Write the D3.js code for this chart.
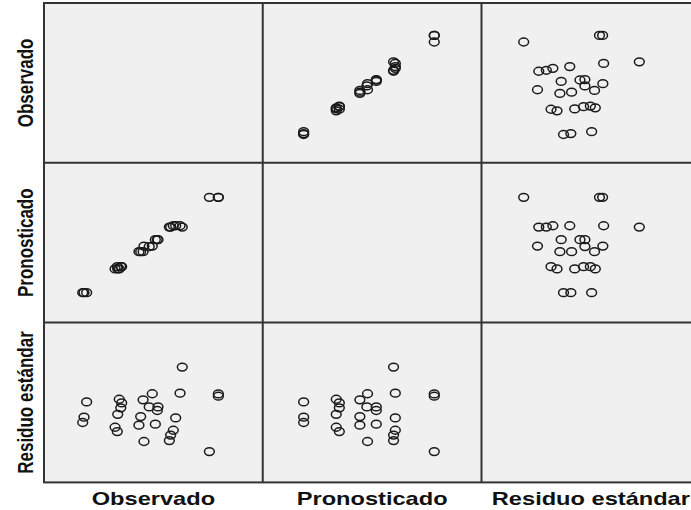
<!DOCTYPE html>
<html>
<head>
<meta charset="utf-8">
<script src="https://cdn.jsdelivr.net/npm/d3@7/dist/d3.min.js"></script>
<style>
  html, body { margin: 0; padding: 0; background: #ffffff; }
  svg { display: block; }
</style>
</head>
<body>
<svg id="chart" width="691" height="510"></svg>
<script>
// Variables of the scatterplot matrix (row/column order)
const variables = ["Observado", "Pronosticado", "Residuo estándar"];

// One entry per case
const observado = [63.2, 19.5, 34.4, 35.5, 35.1, 49.5, 45.3, 62.2, 79.7, 79.7, 48.1, 52.1, 51.8, 33.7,
  18.3, 17.7, 44.2, 43.4, 50.9, 60.2, 32.5, 33.5, 59.1, 57.9, 57.3, 45.7, 75.6];
const pronosticado = [59.8, 18.7, 33.6, 35.0, 35.0, 47.9, 44.4, 60.6, 78.4, 78.4, 47.6, 51.9, 51.9, 33.6,
  18.7, 18.7, 44.4, 44.4, 51.9, 60.6, 33.6, 35.0, 60.6, 59.8, 59.8, 47.9, 78.4];
const residuo = [2.46, 0.63, 0.77, 0.58, 0.32, 1.06, 0.74, 1.09, 1.05, 0.93, 0.37, 0.37, 0.18, -0.02,
  -0.17, -0.45, -0.14, -0.59, -0.54, -0.21, -0.70, -0.93, -0.86, -1.11, -1.40, -1.45, -1.98];

// Axis ranges of each variable
const obsDomain = [0, 100];
const predDomain = [0, 100];
const residDomain = [-3.6, 4.8];

const series = [observado, pronosticado, residuo];
const domains = [obsDomain, predDomain, residDomain];

// Layout
const marginLeft = 44, marginTop = 3, cellW = 218.75, cellH = 159.8;
const stretch = 1.27;            // horizontal stretch of glyphs and markers
const n = variables.length;

const svg = d3.select("#chart");

const xScales = domains.map((d, j) =>
  d3.scaleLinear().domain(d).range([marginLeft + j * cellW, marginLeft + (j + 1) * cellW]));
const yScales = domains.map((d, i) =>
  d3.scaleLinear().domain(d).range([marginTop + (i + 1) * cellH, marginTop + i * cellH]));

const cases = d3.range(observado.length);

// Cell backgrounds
const cells = [];
for (let i = 0; i < n; i++) for (let j = 0; j < n; j++) cells.push({ i, j });

svg.append("g").selectAll("rect").data(cells).join("rect")
  .attr("x", d => xScales[d.j].range()[0])
  .attr("y", d => yScales[d.i].range()[1])
  .attr("width", cellW)
  .attr("height", cellH)
  .attr("fill", "#f0f0f0");

// Markers (off-diagonal cells only)
const offDiag = cells.filter(c => c.i !== c.j);
const pts = svg.append("g");
offDiag.forEach(c => {
  pts.append("g").selectAll("ellipse").data(cases).join("ellipse")
    .attr("cx", k => xScales[c.j](series[c.j][k]))
    .attr("cy", k => yScales[c.i](series[c.i][k]))
    .attr("rx", 4.9)
    .attr("ry", 3.9)
    .attr("fill", "none")
    .attr("stroke", "#1a1a1a")
    .attr("stroke-width", 1.5);
});

// Grid lines and frame
const grid = svg.append("g").attr("stroke", "#333").attr("stroke-width", 2).attr("fill", "none");
grid.append("rect")
  .attr("x", marginLeft).attr("y", marginTop)
  .attr("width", cellW * n).attr("height", cellH * n);
d3.range(1, n).forEach(k => {
  grid.append("line")
    .attr("x1", marginLeft + k * cellW).attr("x2", marginLeft + k * cellW)
    .attr("y1", marginTop).attr("y2", marginTop + n * cellH);
  grid.append("line")
    .attr("x1", marginLeft).attr("x2", marginLeft + n * cellW)
    .attr("y1", marginTop + k * cellH).attr("y2", marginTop + k * cellH);
});

// Column titles
svg.append("g").selectAll("text").data(variables).join("text")
  .attr("transform", (d, j) =>
    `translate(${marginLeft + (j + 0.5) * cellW},504.5) scale(${stretch},1)`)
  .attr("text-anchor", "middle")
  .attr("font-family", "'Liberation Sans', Arial, sans-serif")
  .attr("font-weight", "bold")
  .attr("font-size", 18.6)
  .attr("fill", "#111")
  .text(d => d);

// Row titles
svg.append("g").selectAll("text").data(variables).join("text")
  .attr("transform", (d, i) =>
    `translate(33,${marginTop + (i + 0.5) * cellH}) scale(${stretch},1) rotate(-90)`)
  .attr("text-anchor", "middle")
  .attr("font-family", "'Liberation Sans', Arial, sans-serif")
  .attr("font-weight", "bold")
  .attr("font-size", 17)
  .attr("fill", "#111")
  .text(d => d);
</script>
</body>
</html>
